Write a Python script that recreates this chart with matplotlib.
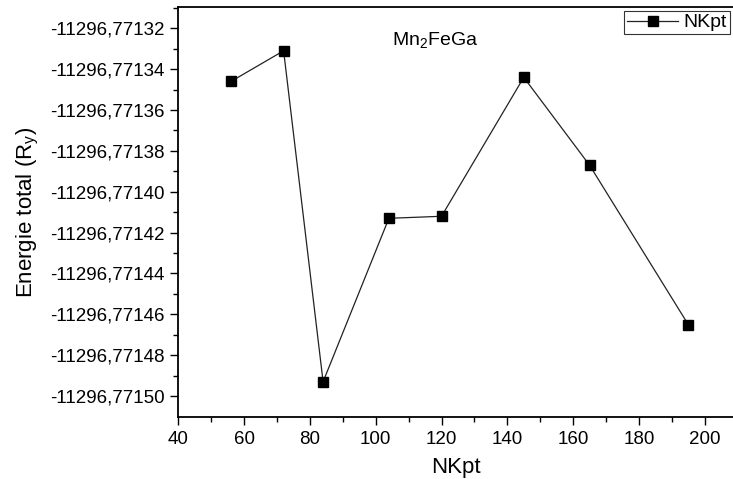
import matplotlib
matplotlib.use('Agg')
import matplotlib.pyplot as plt
from matplotlib.ticker import FixedLocator, MultipleLocator, FuncFormatter

plt.rcParams['font.family'] = ['Liberation Sans', 'DejaVu Sans']
plt.rcParams['mathtext.fontset'] = 'custom'
plt.rcParams['mathtext.rm'] = 'Liberation Sans'
plt.rcParams['mathtext.it'] = 'Liberation Sans'

# k-points vs total energy (Ry)
nkpt = [56, 72, 84, 104, 120, 145, 165, 195]
energy = [-11296.771346, -11296.771331, -11296.771493, -11296.771413,
          -11296.771412, -11296.771344, -11296.771387, -11296.771465]
ytick_vals = [-11296.77150, -11296.77148, -11296.77146, -11296.77144, -11296.77142,
              -11296.77140, -11296.77138, -11296.77136, -11296.77134, -11296.77132]
xtick_vals = [40, 60, 80, 100, 120, 140, 160, 180, 200]

fig = plt.figure(figsize=(7.33, 4.79), dpi=100)
ax = fig.add_axes([0.2433, 0.1301, 0.7567, 0.8547])

ax.plot(nkpt, energy, '-', color='#222222', lw=0.9, marker='s', markersize=7,
        markerfacecolor='black', markeredgecolor='black', label='NKpt')

ax.set_xlim(40, 208.6)
ax.set_ylim(-11296.7715101, -11296.7713097)

ax.xaxis.set_major_locator(FixedLocator(xtick_vals))
ax.xaxis.set_minor_locator(MultipleLocator(10))
ax.yaxis.set_major_locator(FixedLocator(ytick_vals))
ax.yaxis.set_minor_locator(FixedLocator([v + 0.00001 for v in ytick_vals]))
ax.yaxis.set_major_formatter(FuncFormatter(lambda v, p: ('%.5f' % v).replace('.', ',')))

ax.tick_params(which='major', direction='out', length=6, width=1, labelsize=13.5,
               colors='black', pad=4)
ax.tick_params(which='minor', direction='out', length=3.5, width=1)
ax.tick_params(top=False, right=False)

for s in ['left', 'bottom', 'top']:
    ax.spines[s].set_linewidth(1.3)
ax.spines['right'].set_visible(False)

ax.set_xlabel('NKpt', fontsize=16, labelpad=7)
ax.set_ylabel('Energie total (R$_\\mathregular{y}$)', fontsize=16, labelpad=6)

ax.text(0.463, 0.92, 'Mn$_\\mathregular{2}$FeGa', transform=ax.transAxes,
        ha='center', va='center', fontsize=14)

leg = ax.legend(loc='upper right', bbox_to_anchor=(0.9946, 0.991), borderaxespad=0,
                fontsize=14, frameon=True, fancybox=False, handlelength=2.6,
                handletextpad=0.3, borderpad=0.15)
leg.get_frame().set_edgecolor('black')
leg.get_frame().set_linewidth(0.8)

fig.savefig('out.png', dpi=100)
